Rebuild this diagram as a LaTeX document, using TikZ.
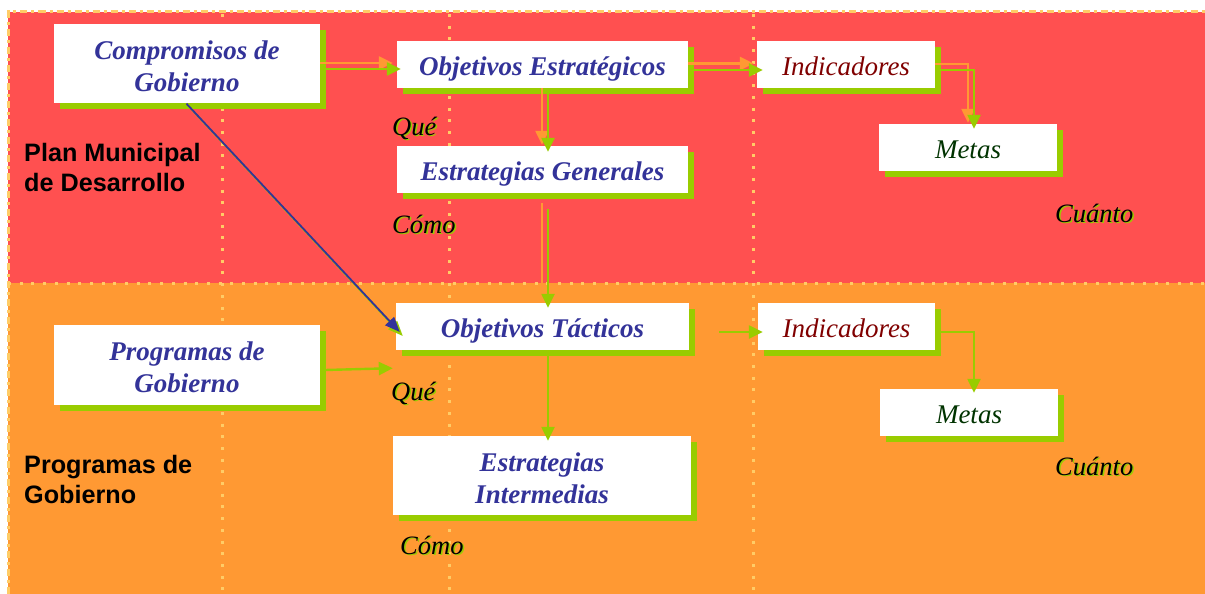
\documentclass[tikz,border=0pt]{standalone}
\usepackage{fontspec}
\setmainfont{Liberation Serif}
\newfontfamily\labsans{Liberation Sans}
\usetikzlibrary{calc,arrows.meta,shadows}
\definecolor{bgred}{HTML}{FF5050}
\definecolor{bgorange}{HTML}{FF9933}
\definecolor{dotc}{HTML}{FFCC66}
\definecolor{shgreen}{HTML}{99CC00}
\definecolor{txtblue}{HTML}{333399}
\definecolor{txtmaroon}{HTML}{800000}
\definecolor{txtdkgreen}{HTML}{003300}
\definecolor{arrorange}{HTML}{FF9933}
\newcommand{\firstline}{\rule{0pt}{24pt}}
\begin{document}
\begin{tikzpicture}[x=1pt,y=-1pt,
  box/.style={fill=white, inner sep=0pt, align=center,
    drop shadow={shadow xshift=6pt, shadow yshift=-6pt, opacity=1, fill=shgreen}},
  oneline/.style={text height=24pt, text depth=2pt},
  bluebox/.style={box, text=txtblue, font=\fontsize{27}{32}\selectfont\bfseries\itshape},
  indbox/.style={box, oneline, text=txtmaroon, font=\fontsize{27}{32}\selectfont\itshape},
  metbox/.style={box, oneline, text=txtdkgreen, font=\fontsize{27}{32}\selectfont\itshape},
  cuetxt/.style={inner sep=0pt, anchor=base west, font=\fontsize{26.5}{30}\selectfont\itshape},
  bandlab/.style={inner sep=0pt, anchor=west, align=left, font=\labsans\fontsize{25.2}{30}\selectfont\bfseries},
  dotline/.style={draw=dotc, line width=3pt, dash pattern=on 3pt off 8.7pt},
  border/.style={draw=dotc, line width=3pt, dash pattern=on 7pt off 4pt on 3pt off 4pt},
  tip/.style={-{Triangle[length=14pt,width=13pt]}},
  oarr/.style={draw=arrorange, line width=2.4pt, tip},
  oline/.style={draw=arrorange, line width=2.4pt},
  garr/.style={draw=shgreen, line width=2.4pt, tip},
  barr/.style={draw=txtblue, line width=1.8pt, -{Triangle[length=15pt,width=12pt]}},
  bsarr/.style={draw=shgreen, line width=1.8pt, -{Triangle[length=15pt,width=12pt]}}
]
\path[use as bounding box] (0,0) rectangle (1205,594);
% background bands
\fill[bgred] (8,12) rectangle (1205,283);
\fill[bgorange] (8,283) rectangle (1205,594);
% borders and dotted guides
\draw[border] (8.5,594) -- (8.5,12) -- (1205,12);
\draw[dotline] (8,283) -- (1205,283);
\draw[dotline] (222,14) -- (222,594);
\draw[dotline] (449,14) -- (449,594);
\draw[dotline] (753.5,14) -- (753.5,594);

% boxes
\node[bluebox, minimum width=266pt, minimum height=79pt] (cg) at (187,63.5) {\firstline Compromisos de\\Gobierno};
\node[bluebox, oneline, minimum width=291pt, minimum height=47pt] (oe) at (542.5,64.5) {Objetivos Estratégicos};
\node[bluebox, oneline, minimum width=291pt, minimum height=47pt] (eg) at (542.5,169.5) {Estrategias Generales};
\node[indbox, minimum width=178pt, minimum height=47pt] (i1) at (846,64.5) {Indicadores};
\node[metbox, minimum width=178pt, minimum height=47pt] (m1) at (968,147.5) {Metas};
\node[bluebox, oneline, minimum width=293pt, minimum height=47pt] (ot) at (542.5,326.5) {Objetivos Tácticos};
\node[bluebox, minimum width=266pt, minimum height=80pt] (pg) at (187,365) {\firstline Programas de\\Gobierno};
\node[bluebox, minimum width=298pt, minimum height=79pt] (ei) at (542,475.5) {\firstline Estrategias\\Intermedias};
\node[indbox, minimum width=177pt, minimum height=47pt] (i2) at (846.5,326.5) {Indicadores};
\node[metbox, minimum width=178pt, minimum height=47pt] (m2) at (969,412.5) {Metas};

% band labels
\node[bandlab] (plan) at (24,167) {Plan Municipal\\de Desarrollo};
\node[bandlab] (prog) at (24,479) {Programas de\\Gobierno};

% cue words with green shadow
\node[cuetxt, text=shgreen] (q1s) at (393.5,136.5) {Qué};
\node[cuetxt] (q1) at (392,135) {Qué};
\node[cuetxt, text=shgreen] (c1s) at (393.5,234.5) {Cómo};
\node[cuetxt] (c1) at (392,233) {Cómo};
\node[cuetxt, text=shgreen] (k1s) at (1056.5,223.5) {Cuánto};
\node[cuetxt] (k1) at (1055,222) {Cuánto};
\node[cuetxt, text=shgreen] (q2s) at (392.5,401.5) {Qué};
\node[cuetxt] (q2) at (391,400) {Qué};
\node[cuetxt, text=shgreen] (c2s) at (401.5,555.5) {Cómo};
\node[cuetxt] (c2) at (400,554) {Cómo};
\node[cuetxt, text=shgreen] (k2s) at (1056.5,476.5) {Cuánto};
\node[cuetxt] (k2) at (1055,475) {Cuánto};

% top band connectors (orange + green pairs)
\draw[oarr] ($(cg.east)+(0,-0.5)$) -- ($(oe.west)+(-4,-1.5)$);
\draw[garr] ($(cg.east)+(5,5.5)$) -- ($(oe.west)+(4,4.5)$);
\draw[oarr] ($(oe.east)+(0,-1)$) -- ($(i1.west)+(-3,-1)$);
\draw[garr] ($(oe.east)+(5,5.5)$) -- ($(i1.west)+(6,5.5)$);
\draw[oarr] ($(oe.south)+(-0.5,0)$) -- ($(eg.north)+(-0.5,-1)$);
\draw[garr] ($(oe.south)+(5.5,5)$) -- ($(eg.north)+(5.5,6)$);
\draw[oarr] ($(i1.east)+(0,-0.5)$) -| ($(m1.north)+(0,-1)$);
\draw[garr] ($(i1.east)+(5,5.5)$) -| ($(m1.north)+(6,5)$);
\draw[oline] ($(eg.south)+(-0.5,10)$) -- ++(0,80);
\draw[garr] ($(eg.south)+(5.5,16)$) -- ($(ot.north)+(5.5,5)$);
% blue diagonal with green shadow tip
\draw[bsarr] ($(cg.south)+(2.5,4)$) -- ($(ot.west)+(7,9.5)$);
\draw[barr] ($(cg.south)+(-0.5,0.5)$) -- ($(ot.west)+(4,5.5)$);
% bottom band connectors
\draw[garr] ($(pg.east)+(5,5)$) -- ($(ot.south west)+(-3,18)$);
\draw[garr] ($(ot.south)+(5.5,6)$) -- ($(ei.north)+(6,5)$);
\draw[garr] ($(ot.east)+(30,5.5)$) -- ($(i2.west)+(5,5.5)$);
\draw[garr] ($(i2.east)+(5,5.5)$) -| ($(m2.north)+(5,4)$);
\end{tikzpicture}
\end{document}
